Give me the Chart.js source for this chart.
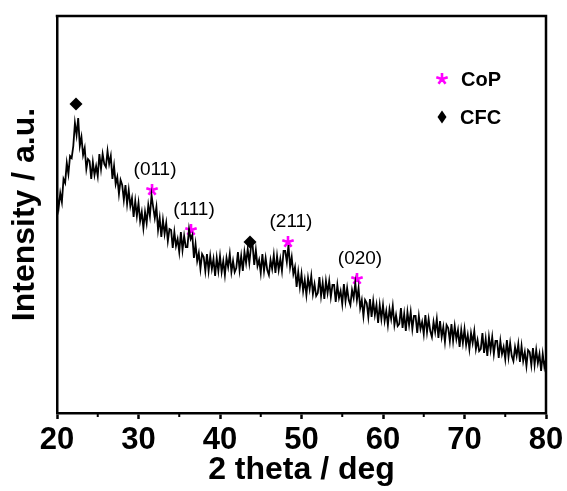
<!DOCTYPE html>
<html>
<head>
<meta charset="utf-8">
<script src="https://cdn.jsdelivr.net/npm/chart.js@4"></script>
<style>
  html, body { margin: 0; padding: 0; background: #fff; }
</style>
</head>
<body>
<canvas id="xrd" width="567" height="491"></canvas>
<script>
// XRD pattern, 2 theta from 20 to 80 deg, 0.2 deg step
const angleStart = 20;
const angleStep = 0.2;
const intensity = [
  217, 205, 220, 211, 234, 230, 250, 239, 257, 255,
  267, 290, 278, 295, 267, 276, 258, 265, 244, 254,
  252, 234, 251, 238, 247, 237, 259, 244, 259, 249,
  246, 262, 249, 257, 234, 247, 229, 236, 219, 233,
  228, 213, 228, 209, 223, 207, 215, 196, 212, 197,
  210, 192, 201, 185, 201, 190, 208, 197, 218, 206,
  195, 206, 183, 195, 176, 193, 179, 190, 172, 184,
  183, 165, 181, 167, 174, 161, 181, 163, 177, 166,
  166, 184, 174, 178, 155, 169, 152, 160, 144, 159,
  156, 142, 159, 142, 157, 144, 154, 137, 155, 142,
  157, 141, 152, 138, 155, 146, 159, 141, 152, 141,
  145, 161, 143, 157, 142, 161, 150, 164, 150, 166,
  168, 148, 163, 147, 153, 140, 159, 142, 155, 143,
  138, 153, 144, 158, 140, 157, 143, 154, 142, 162,
  162, 151, 168, 146, 156, 139, 146, 126, 141, 126,
  139, 122, 133, 118, 135, 124, 137, 119, 129, 117,
  120, 136, 117, 130, 114, 132, 120, 132, 116, 128,
  128, 111, 128, 115, 122, 109, 129, 112, 125, 113,
  108, 123, 115, 130, 113, 125, 105, 113, 97, 113,
  110, 96, 114, 96, 112, 98, 108, 90, 108, 94,
  108, 92, 102, 88, 104, 94, 107, 88, 98, 87,
  89, 105, 85, 99, 82, 101, 88, 101, 84, 97,
  97, 80, 97, 84, 91, 79, 98, 81, 94, 82,
  76, 91, 81, 94, 75, 92, 76, 86, 71, 88,
  85, 72, 89, 72, 87, 74, 83, 66, 83, 70,
  84, 68, 78, 64, 80, 70, 82, 64, 73, 62,
  64, 80, 60, 74, 57, 76, 63, 76, 59, 72,
  72, 55, 72, 59, 66, 54, 73, 56, 70, 57,
  52, 66, 57, 69, 51, 67, 52, 61, 47, 63,
  61, 48, 65, 48, 63, 50, 59, 42, 59, 46,
  54
];

// peak markers
const copPeaks = [31.66, 36.44, 48.34, 56.81];
const copMarkY = [223, 183, 171, 134];
const copLabels = ['(011)', '(111)', '(211)', '(020)'];
const cfcPeaks = [22.33, 43.68];
const cfcMarkY = [309, 171];

const legendNames = ['CoP', 'CFC'];
const minorTicks = [25, 35, 45, 55, 65, 75];

const FONT = '"Liberation Sans", Arial, sans-serif';
const MAGENTA = '#ff00ff';

// five-armed asterisk like the one in the figure
function makeStar(size, color) {
    const c = document.createElement('canvas');
    c.width = c.height = size;
    const g = c.getContext('2d');
    const r = size / 2;
    g.strokeStyle = color;
    g.lineWidth = 2.6;
    g.beginPath();
    for (let k = 0; k < 5; k++) {
        const ang = -Math.PI / 2 + k * 2 * Math.PI / 5;
        g.moveTo(r, r);
        g.lineTo(r + Math.cos(ang) * (r - 1), r + Math.sin(ang) * (r - 1));
    }
    g.stroke();
    return c;
}
const starImg = makeStar(14, MAGENTA);

const pattern = intensity.map((v, i) => ({ x: angleStart + i * angleStep, y: v }));

const decor = {
    id: 'decor',
    afterDraw(chart) {
        const { ctx, chartArea: a, scales: { x, y } } = chart;
        ctx.save();

        // box: top and right edges
        ctx.strokeStyle = '#000';
        ctx.lineWidth = 2.5;
        ctx.beginPath();
        ctx.moveTo(a.left - 1.25, a.top);
        ctx.lineTo(a.right, a.top);
        ctx.lineTo(a.right, a.bottom + 1.25);
        ctx.stroke();

        // minor ticks
        ctx.lineWidth = 2;
        ctx.beginPath();
        minorTicks.forEach(v => {
            const px = x.getPixelForValue(v);
            ctx.moveTo(px, a.bottom);
            ctx.lineTo(px, a.bottom + 4);
        });
        ctx.stroke();

        // peak labels
        ctx.fillStyle = '#000';
        ctx.font = '19px ' + FONT;
        ctx.textAlign = 'center';
        ctx.textBaseline = 'middle';
        copLabels.forEach((t, i) => {
            ctx.fillText(t, x.getPixelForValue(copPeaks[i]) + 3, y.getPixelForValue(copMarkY[i]) - 20);
        });

        // legend
        const lx = a.right - 104;
        const ly1 = a.top + 63;
        const ly2 = a.top + 101;
        ctx.drawImage(starImg, lx - 7, ly1 - 7);
        ctx.beginPath();
        ctx.moveTo(lx, ly2 - 6.5);
        ctx.lineTo(lx + 4.5, ly2);
        ctx.lineTo(lx, ly2 + 6.5);
        ctx.lineTo(lx - 4.5, ly2);
        ctx.closePath();
        ctx.fill();
        ctx.font = 'bold 20px ' + FONT;
        ctx.textAlign = 'left';
        ctx.fillText(legendNames[0], lx + 19, ly1 + 1);
        ctx.fillText(legendNames[1], lx + 18, ly2 + 1);

        ctx.restore();
    }
};

new Chart(document.getElementById('xrd'), {
    type: 'line',
    data: {
        datasets: [
            {
                data: pattern,
                borderColor: '#000',
                borderWidth: 1.8,
                pointRadius: 0,
                tension: 0,
                fill: false
            },
            {
                type: 'scatter',
                data: copPeaks.map((p, i) => ({ x: p, y: copMarkY[i] })),
                pointStyle: starImg,
                pointRadius: 7
            },
            {
                type: 'scatter',
                data: cfcPeaks.map((p, i) => ({ x: p, y: cfcMarkY[i] })),
                pointStyle: 'rectRot',
                pointRadius: 6.5,
                backgroundColor: '#000',
                borderColor: '#000',
                borderWidth: 0
            }
        ]
    },
    options: {
        responsive: false,
        animation: false,
        devicePixelRatio: 1,
        layout: { padding: { top: 16, right: 21, left: 0, bottom: 0 } },
        plugins: {
            legend: { display: false },
            tooltip: { enabled: false }
        },
        scales: {
            x: {
                type: 'linear',
                min: 20,
                max: 80,
                ticks: {
                    stepSize: 10,
                    color: '#000',
                    padding: 3,
                    font: { family: FONT, size: 31, weight: 'bold' },
                    maxRotation: 0
                },
                grid: {
                    drawOnChartArea: false,
                    tickLength: 6,
                    tickWidth: 2.5,
                    tickColor: '#000'
                },
                border: { color: '#000', width: 2.5 },
                title: {
                    display: true,
                    text: '2 theta / deg',
                    color: '#000',
                    font: { family: FONT, size: 32, weight: 'bold' },
                    padding: { top: 0, bottom: 2 }
                },
                afterFit(s) { s.height = 78; }
            },
            y: {
                min: 0,
                max: 397,
                ticks: { display: false },
                grid: { display: false },
                border: { color: '#000', width: 2.5 },
                title: {
                    display: true,
                    text: 'Intensity / a.u.',
                    color: '#000',
                    font: { family: FONT, size: 32, weight: 'bold' },
                    padding: { top: 6, bottom: 0 }
                },
                afterFit(s) { s.width = 57; }
            }
        }
    },
    plugins: [decor]
});
</script>
</body>
</html>
